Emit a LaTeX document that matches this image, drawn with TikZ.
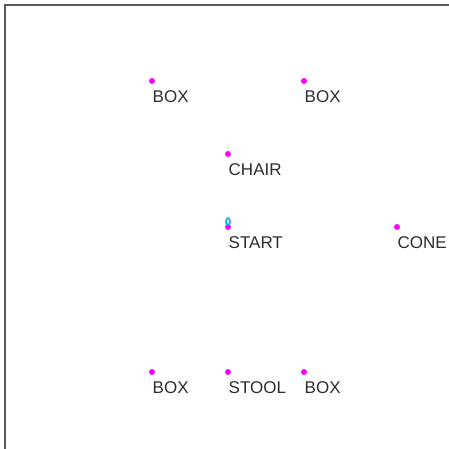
\documentclass[tikz,border=0pt]{standalone}
\usepackage{fontspec}
\setmainfont{Liberation Sans}
\usetikzlibrary{positioning}
\definecolor{dotmag}{RGB}{255,0,255}
\definecolor{labgray}{RGB}{45,45,45}
\definecolor{framegray}{RGB}{90,90,90}
\begin{document}
\begin{tikzpicture}[x=1pt,y=-1pt,
    spot/.style={circle,fill=dotmag,inner sep=0pt,minimum size=6pt},
    tag/.style={anchor=base west,inner sep=0pt,text=labgray,
      font=\fontsize{17}{19}\selectfont}]
    \useasboundingbox (0,0) rectangle (449,449);
    % rahmen
    \draw[line width=1.5pt,framegray] (5,449) -- (5,5) -- (449,5);
    % objekte mit beschriftung
    \foreach \n/\px/\py/\t in {boxa/152/81/BOX, boxb/304/81/BOX,
        chair/228/154/CHAIR, start/228/227/START, cone/397/227/CONE,
        boxc/152/372/BOX, stool/228/372/STOOL, boxd/304/372/BOX}{
      \node[spot] (\n) at (\px,\py) {};
      \node[tag,xshift=0.5pt,yshift=-21.5pt] (\n-l) at (\n.center) {\t};
    }
    % startmarke
    \draw[cyan,line width=1.6pt] ([yshift=5.5pt]start.center) ellipse (2pt and 3.4pt);
\end{tikzpicture}
\end{document}
